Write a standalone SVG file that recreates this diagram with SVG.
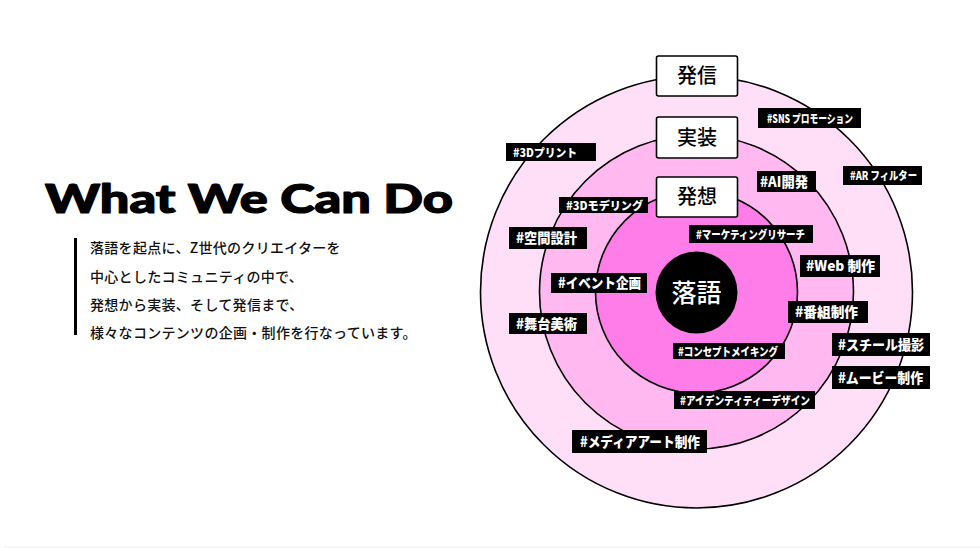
<svg xmlns="http://www.w3.org/2000/svg" width="980" height="548" viewBox="0 0 980 548">
<style>
.ring{stroke:#000;stroke-width:1.6}
.box{fill:#fff;stroke:#000;stroke-width:1.6}
.boxt{font-family:"Noto Sans CJK JP","Noto Sans",sans-serif;font-size:20px;font-weight:500;fill:#000;text-anchor:middle}
.tag{fill:#000}
.tagt{font-family:"Noto Sans CJK JP","Noto Sans",sans-serif;font-weight:900;fill:#fff;text-anchor:middle}
.s{font-size:11.5px}
.m{font-size:14px}
.body{font-family:"Noto Sans CJK JP","Noto Sans",sans-serif;font-size:14px;font-weight:500;fill:#111;letter-spacing:0.3px}
</style>
<rect width="980" height="548" fill="#fff"/>
<line x1="4" y1="547" x2="980" y2="547" stroke="#eeeeee" stroke-width="1"/>

<g id="title">
<text x="45" y="213" font-family="Lato, Inter, sans-serif" font-weight="900" font-size="40" textLength="408" lengthAdjust="spacingAndGlyphs" fill="#000" stroke="#000" stroke-width="1.2" stroke-linejoin="round">What We Can Do</text>
</g>
<g id="description">
<rect x="74" y="238" width="3" height="97" fill="#000"/>
<text class="body" x="90" y="253">落語を起点に、Z世代のクリエイターを</text>
<text class="body" x="90" y="282">中心としたコミュニティの中で、</text>
<text class="body" x="90" y="310">発想から実装、そして発信まで、</text>
<text class="body" x="90" y="338">様々なコンテンツの企画・制作を行なっています。</text>
</g>

<g id="rings">
<circle id="ring-hasshin" class="ring" cx="696.5" cy="292" r="216" fill="#FFDFF8"/>
<circle id="ring-jissou" class="ring" cx="696.5" cy="292" r="157" fill="#FFB8F0"/>
<circle id="ring-hassou" class="ring" cx="696.5" cy="292" r="101" fill="#FF7DE9"/>
</g>

<g id="node-rakugo">
<circle cx="696.5" cy="292.5" r="41" fill="#000"/>
<text x="696.5" y="302" font-family="Noto Sans CJK JP,sans-serif" font-size="25" font-weight="500" fill="#fff" text-anchor="middle">落語</text>
</g>

<g id="node-hasshin"><rect class="box" x="656.5" y="56" width="81" height="40" rx="2"/><text class="boxt" x="697" y="83">発信</text></g>
<g id="node-jissou"><rect class="box" x="656.5" y="117" width="81" height="41" rx="2"/><text class="boxt" x="697" y="145">実装</text></g>
<g id="node-hassou"><rect class="box" x="656.5" y="177" width="81" height="40" rx="2"/><text class="boxt" x="697" y="204">発想</text></g>

<g id="tags">
<g id="tag-sns"><rect class="tag" x="758" y="108" width="103" height="20"/><text class="tagt s" x="810" y="122.5" textLength="86" lengthAdjust="spacingAndGlyphs">#SNS プロモーション</text></g>
<g id="tag-3dprint"><rect class="tag" x="506" y="143" width="90" height="18"/><text class="tagt s" x="545" y="156.5" textLength="64" lengthAdjust="spacingAndGlyphs">#3Dプリント</text></g>
<g id="tag-ai"><rect class="tag" x="757" y="171" width="59" height="21"/><text class="tagt m" x="784" y="186.5" textLength="48" lengthAdjust="spacingAndGlyphs">#AI開発</text></g>
<g id="tag-ar"><rect class="tag" x="843" y="166" width="79" height="19"/><text class="tagt s" x="883.5" y="180" textLength="67" lengthAdjust="spacingAndGlyphs">#AR フィルター</text></g>
<g id="tag-3dmodel"><rect class="tag" x="559" y="197" width="89" height="16"/><text class="tagt s" x="604.5" y="209.5" textLength="77" lengthAdjust="spacingAndGlyphs">#3Dモデリング</text></g>
<g id="tag-marketing"><rect class="tag" x="689" y="225" width="124" height="18"/><text class="tagt s" x="750.5" y="238.5" textLength="109" lengthAdjust="spacingAndGlyphs">#マーケティングリサーチ</text></g>
<g id="tag-kukan"><rect class="tag" x="509" y="227" width="78" height="22"/><text class="tagt m" x="546.5" y="243" textLength="61" lengthAdjust="spacingAndGlyphs">#空間設計</text></g>
<g id="tag-web"><rect class="tag" x="800" y="255" width="80" height="22"/><text class="tagt m" x="840.5" y="271" textLength="69" lengthAdjust="spacingAndGlyphs">#Web 制作</text></g>
<g id="tag-event"><rect class="tag" x="551" y="273" width="96" height="20"/><text class="tagt m" x="599.5" y="288" textLength="83" lengthAdjust="spacingAndGlyphs">#イベント企画</text></g>
<g id="tag-bangumi"><rect class="tag" x="788" y="301" width="80" height="22"/><text class="tagt m" x="826.5" y="317" textLength="63" lengthAdjust="spacingAndGlyphs">#番組制作</text></g>
<g id="tag-butai"><rect class="tag" x="509" y="313" width="78" height="21"/><text class="tagt m" x="546.5" y="329" textLength="61" lengthAdjust="spacingAndGlyphs">#舞台美術</text></g>
<g id="tag-still"><rect class="tag" x="832" y="333" width="98" height="23"/><text class="tagt m" x="881" y="350" textLength="86" lengthAdjust="spacingAndGlyphs">#スチール撮影</text></g>
<g id="tag-concept"><rect class="tag" x="673" y="343" width="112" height="16"/><text class="tagt s" x="728" y="355.5" textLength="100" lengthAdjust="spacingAndGlyphs">#コンセプトメイキング</text></g>
<g id="tag-movie"><rect class="tag" x="832" y="366" width="98" height="23"/><text class="tagt m" x="880.5" y="383" textLength="85" lengthAdjust="spacingAndGlyphs">#ムービー制作</text></g>
<g id="tag-identity"><rect class="tag" x="674" y="391" width="141" height="18"/><text class="tagt s" x="745" y="404.5" textLength="130" lengthAdjust="spacingAndGlyphs">#アイデンティティーデザイン</text></g>
<g id="tag-media"><rect class="tag" x="572" y="430" width="135" height="23"/><text class="tagt m" x="640" y="447" textLength="120" lengthAdjust="spacingAndGlyphs">#メディアアート制作</text></g>
</g>
</svg>
